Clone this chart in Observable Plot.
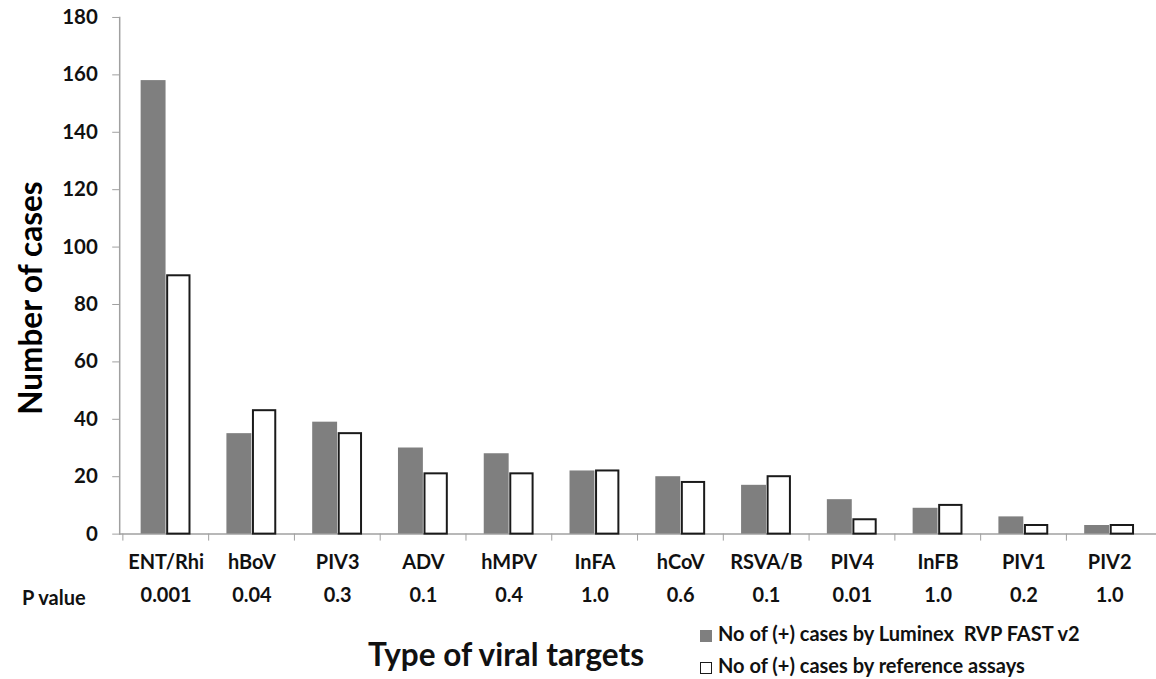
<!DOCTYPE html>
<html>
<head>
<meta charset="utf-8">
<script src="https://cdn.jsdelivr.net/npm/d3@7"></script>
<script src="https://cdn.jsdelivr.net/npm/@observablehq/plot@0.6"></script>
<style>
  html, body { margin: 0; padding: 0; background: #fff; overflow: hidden; }
  #wrap { position: relative; width: 1156px; height: 679px; font-family: Lato, "Open Sans", sans-serif; font-weight: bold; color: #111; }
  #chart { position: absolute; left: 0; top: 0; }
  #ytitle { position: absolute; left: 31px; top: 298px; font-size: 31.5px; color: #000; white-space: nowrap; line-height: 1; transform-origin: 0 0; transform: rotate(-90deg) translate(-50%, -50%); }
  #plabel { position: absolute; left: 22px; top: 585px; font-size: 20px; }
  #xtitle { position: absolute; left: 368px; top: 635px; font-size: 31.5px; }
  #legend { position: absolute; left: 700px; top: 617px; font-size: 20px; line-height: 32px; white-space: pre; }
  .sw { display: inline-block; width: 12px; height: 12px; margin-right: 6px; vertical-align: -1px; box-sizing: border-box; }
</style>
</head>
<body>
<div id="wrap">
  <div id="chart"></div>
  <div id="ytitle">Number of cases</div>
  <div id="plabel">P value</div>
  <div id="xtitle">Type of viral targets</div>
  <div id="legend"></div>
</div>
<script>
const categories = ["ENT/Rhi","hBoV","PIV3","ADV","hMPV","InFA","hCoV","RSVA/B","PIV4","InFB","PIV1","PIV2"];
const luminex    = [158, 35, 39, 30, 28, 22, 20, 17, 12, 9, 6, 3];
const reference  = [90, 43, 35, 21, 21, 22, 18, 20, 5, 10, 3, 3];
const pValues    = ["0.001","0.04","0.3","0.1","0.4","1.0","0.6","0.1","0.01","1.0","0.2","1.0"];
const seriesNames = ["No of (+) cases by Luminex  RVP FAST v2", "No of (+) cases by reference assays"];
const yTicks = [0, 20, 40, 60, 80, 100, 120, 140, 160, 180];

const lumRows = categories.map((c, i) => ({cat: c, value: luminex[i]}));
const refRows = categories.map((c, i) => ({cat: c, value: reference[i]}));
const pMap = new Map(categories.map((c, i) => [c, pValues[i]]));

const W = 1159, H = 615, ML = 119.5, MR = 0;
const step = (W - ML - MR) / categories.length;

const chart = Plot.plot({
  width: W,
  height: H,
  marginTop: 17,
  marginBottom: 80,
  marginLeft: ML,
  marginRight: MR,
  style: {fontFamily: "Lato, 'Open Sans', sans-serif", fontWeight: "bold", background: "#fff"},
  x: {domain: categories, padding: 0, axis: null},
  y: {domain: [0, 180], axis: null},
  marks: [
    Plot.frame({anchor: "left", stroke: "#a0a0a0", strokeWidth: 1.5}),
    Plot.ruleY([0], {stroke: "#a0a0a0", strokeWidth: 1.5}),
    Plot.axisY({ticks: yTicks, tickSize: 7, tickPadding: 15, fontSize: 20.5, stroke: "#a0a0a0", fill: "#111", label: null}),
    Plot.axisX({tickSize: 7, tickFormat: () => "", stroke: "#a0a0a0", dx: -step / 2, label: null}),
    Plot.axisX({tickSize: 0, tickPadding: 21, fontSize: 20, fill: "#111", label: null}),
    Plot.axisX({tickSize: 0, tickPadding: 54, fontSize: 20, fill: "#111", label: null, tickFormat: d => pMap.get(d)}),
    Plot.barY(lumRows, {x: "cat", y: "value", fill: "#7f7f7f", insetLeft: 18, insetRight: step - 43.6}),
    Plot.barY(refRows, {x: "cat", y: "value", fill: "#fff", stroke: "#1a1a1a", strokeWidth: 2, insetLeft: 43.6 + 1, insetRight: step - 68.6 + 1})
  ]
});
document.getElementById("chart").appendChild(chart);

const legend = document.getElementById("legend");
const swatchStyles = ["background:#7f7f7f;", "background:#fff;border:1.5px solid #1a1a1a;"];
seriesNames.forEach((name, i) => {
  const row = document.createElement("div");
  row.innerHTML = `<span class="sw" style="${swatchStyles[i]}"></span>${name}`;
  legend.appendChild(row);
});
</script>
</body>
</html>
